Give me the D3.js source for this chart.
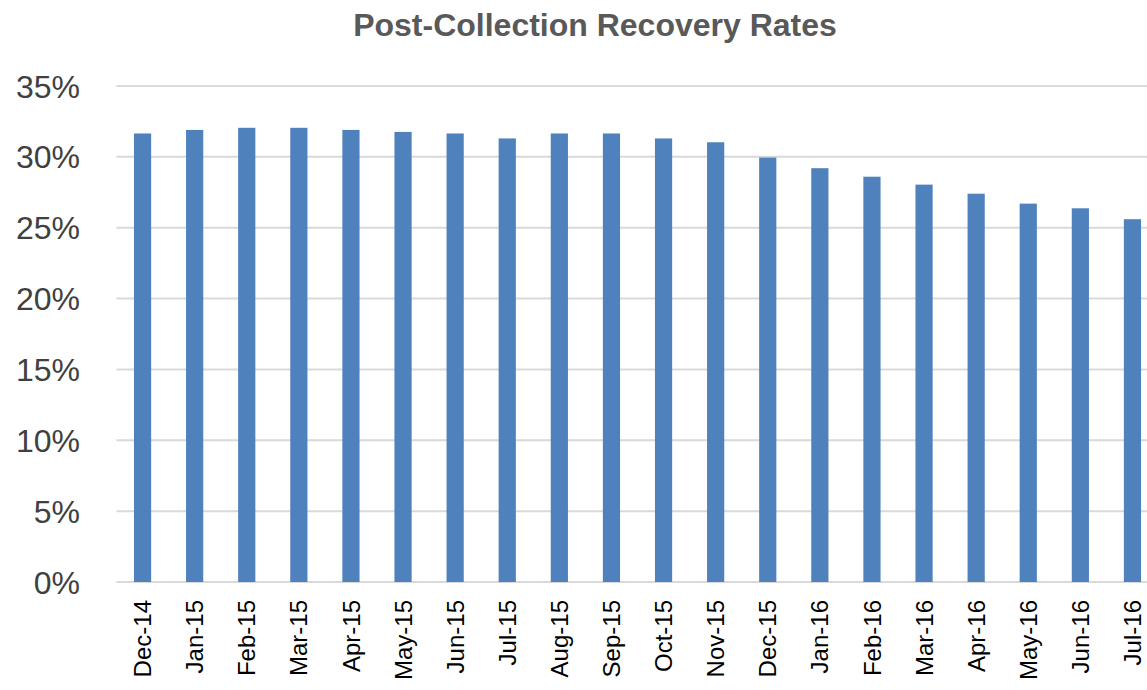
<!DOCTYPE html>
<html>
<head>
<meta charset="utf-8">
<script src="https://cdn.jsdelivr.net/npm/d3@7.9.0/dist/d3.min.js"></script>
<style>
  html, body { margin: 0; padding: 0; background: #fff; }
  svg { display: block; font-family: "Liberation Sans", Arial, sans-serif; }
</style>
</head>
<body>
<svg id="chart" width="1147" height="690"></svg>
<script>
// months on the x axis
const months = ['Dec-14', 'Jan-15', 'Feb-15', 'Mar-15', 'Apr-15', 'May-15', 'Jun-15', 'Jul-15',
  'Aug-15', 'Sep-15', 'Oct-15', 'Nov-15', 'Dec-15', 'Jan-16', 'Feb-16', 'Mar-16',
  'Apr-16', 'May-16', 'Jun-16', 'Jul-16'];
// recovery rate per month
const rates = [0.3165, 0.319, 0.3205, 0.3205, 0.319, 0.3176, 0.3165, 0.313,
  0.3165, 0.3165, 0.313, 0.3103, 0.2995, 0.292, 0.286, 0.2804,
  0.274, 0.267, 0.2637, 0.256];
const yTicks = [0, 0.05, 0.10, 0.15, 0.20, 0.25, 0.30, 0.35];
const title = 'Post-Collection Recovery Rates';

const svg = d3.select('#chart');

let x = d3.scaleBand()
  .domain(months)
  .range([116.5, 1158.5])
  .paddingInner(0.67)
  .paddingOuter(0.335);

let y = d3.scaleLinear()
  .domain([0, 0.35])
  .range([582, 86]);

// title
svg.append('text')
  .attr('x', 595)
  .attr('y', 36)
  .attr('text-anchor', 'middle')
  .attr('font-size', 32)
  .attr('font-weight', 'bold')
  .attr('fill', '#595959')
  .text(title);

// gridlines
svg.append('g')
  .selectAll('line')
  .data(yTicks)
  .join('line')
  .attr('x1', 116.5)
  .attr('x2', 1160)
  .attr('y1', d => y(d))
  .attr('y2', d => y(d))
  .attr('stroke', '#d9d9d9')
  .attr('stroke-width', 2);

// y labels
svg.append('g')
  .selectAll('text')
  .data(yTicks)
  .join('text')
  .attr('x', 80)
  .attr('y', d => y(d))
  .attr('dy', '0.36em')
  .attr('text-anchor', 'end')
  .attr('font-size', 32)
  .attr('fill', '#404040')
  .text(d => d3.format('.0%')(d));

// bars
svg.append('g')
  .selectAll('rect')
  .data(rates)
  .join('rect')
  .attr('x', (d, i) => x(months[i]))
  .attr('width', x.bandwidth())
  .attr('y', d => y(d))
  .attr('height', d => y(0) - y(d))
  .attr('fill', '#4f81bd');

// x labels, rotated
svg.append('g')
  .selectAll('text')
  .data(months)
  .join('text')
  .attr('transform', d => `translate(${x(d) + x.bandwidth() / 2},600) rotate(-90)`)
  .attr('dy', '0.36em')
  .attr('text-anchor', 'end')
  .attr('font-size', 24)
  .attr('fill', '#000')
  .text(d => d);
</script>
</body>
</html>
